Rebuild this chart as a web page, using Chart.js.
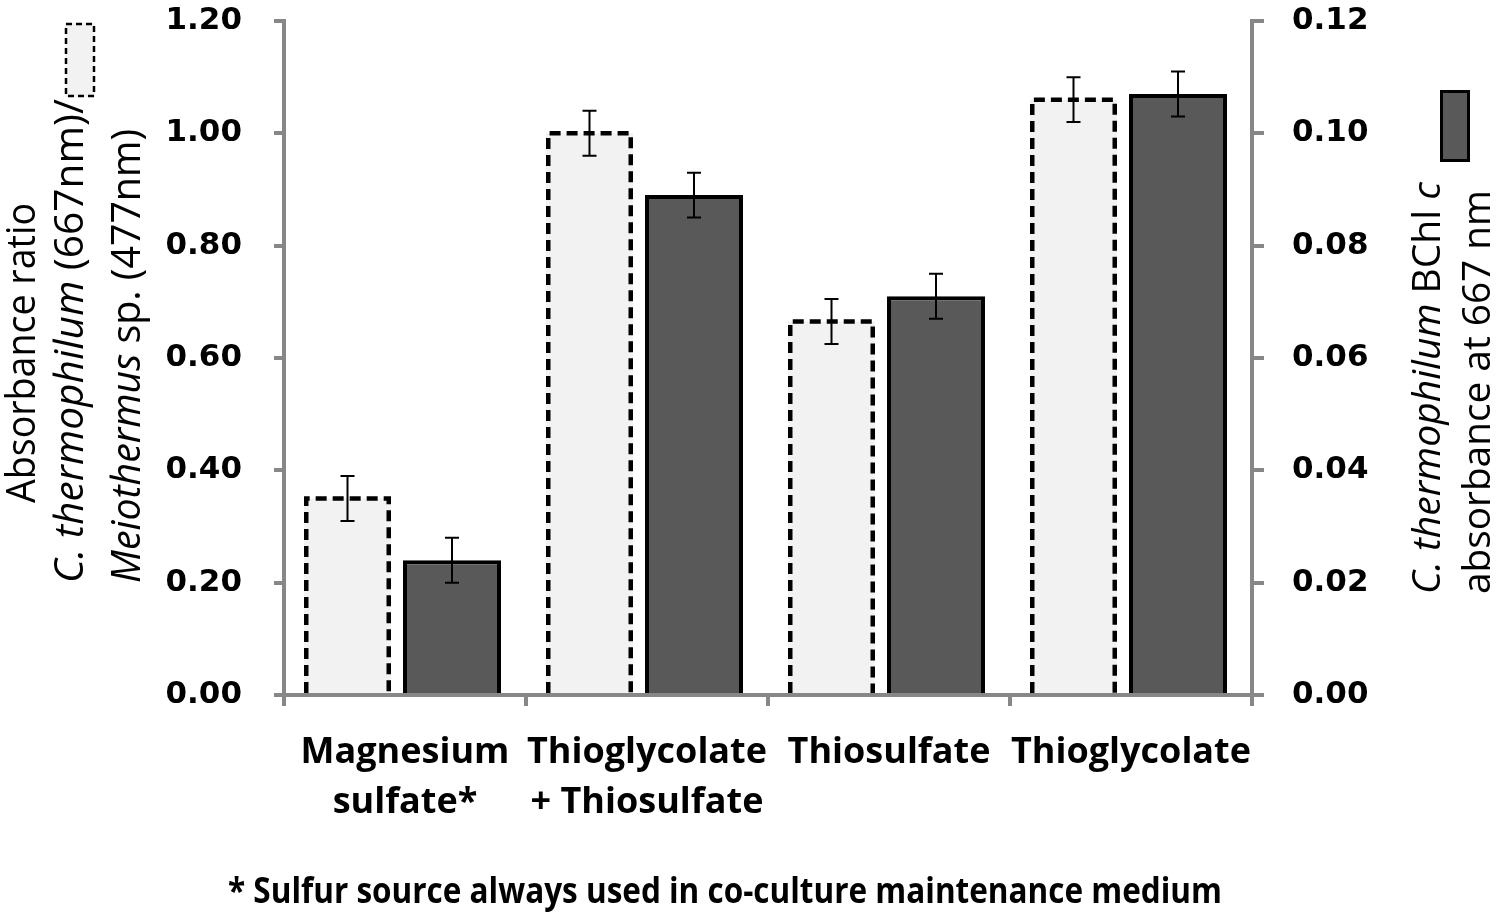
<!DOCTYPE html>
<html>
<head>
<meta charset="utf-8">
<script src="https://cdn.jsdelivr.net/npm/chart.js@4.4.1/dist/chart.umd.min.js"></script>
<style>
  html, body { margin: 0; padding: 0; background: #ffffff; }
  #wrap { width: 1500px; height: 922px; }
</style>
</head>
<body>
<div id="wrap"><canvas id="c" width="1500" height="922"></canvas></div>
<script>
// ---- data ----
const categories = [["Magnesium", "sulfate*"], ["Thioglycolate", "+ Thiosulfate"], ["Thiosulfate"], ["Thioglycolate"]];
const ratioValues = [0.35, 1.00, 0.665, 1.06];      // left axis (light, dashed)
const ratioErrors = [0.04, 0.04, 0.04, 0.04];
const bchlValues = [0.024, 0.089, 0.071, 0.107];     // right axis (dark)
const bchlErrors = [0.004, 0.004, 0.004, 0.004];
const leftTicks = { min: 0, max: 1.2, step: 0.2 };
const rightTicks = { min: 0, max: 0.12, step: 0.02 };
const footnote = "* Sulfur source always used in co-culture maintenance medium";

const AXIS_GRAY = '#878787';
const LIGHT = '#f2f2f2';
const DARK = '#595959';

function drawRotLine(ctx, segs, baseX, startY, endY, size, weight) {
  let total = 0;
  segs.forEach(s => {
    ctx.font = (s.it ? 'italic ' : '') + (weight || 'normal') + ' ' + size + 'px "Open Sans"';
    s.w = ctx.measureText(s.t).width;
    total += s.w;
  });
  const k = (startY - endY) / total;
  ctx.save();
  ctx.translate(baseX, startY);
  ctx.rotate(-Math.PI / 2);
  ctx.scale(k, 1);
  ctx.textAlign = 'left';
  ctx.textBaseline = 'alphabetic';
  ctx.fillStyle = '#000';
  let x = 0;
  segs.forEach(s => {
    ctx.font = (s.it ? 'italic ' : '') + (weight || 'normal') + ' ' + size + 'px "Open Sans"';
    ctx.fillText(s.t, x, 0);
    x += s.w;
  });
  ctx.restore();
}

const decorPlugin = {
  id: 'decor',
  afterDatasetsDraw(chart) {
    const ctx = chart.ctx;
    // dashed borders for the ratio bars
    const m0 = chart.getDatasetMeta(0);
    ctx.save();
    ctx.strokeStyle = '#000';
    ctx.lineWidth = 4.5;
    ctx.setLineDash([11, 6]);
    m0.data.forEach(el => {
      const p = el.getProps(['x', 'y', 'base', 'width'], true);
      const x0 = p.x - p.width / 2 + 2.25, x1 = p.x + p.width / 2 - 2.25;
      const yT = p.y, yB = p.base;
      ctx.beginPath();
      ctx.moveTo(x0, yB);
      ctx.lineTo(x0, yT);
      ctx.lineTo(x1, yT);
      ctx.lineTo(x1, yB);
      ctx.stroke();
    });
    ctx.restore();
    // error bars
    const sets = [
      { meta: m0, vals: ratioValues, errs: ratioErrors, scale: chart.scales.y },
      { meta: chart.getDatasetMeta(1), vals: bchlValues, errs: bchlErrors, scale: chart.scales.y1 }
    ];
    ctx.save();
    ctx.strokeStyle = '#000';
    ctx.lineWidth = 2;
    sets.forEach(s => {
      s.meta.data.forEach((el, i) => {
        const x = el.getProps(['x'], true).x;
        const yt = s.scale.getPixelForValue(s.vals[i] + s.errs[i]);
        const yb = s.scale.getPixelForValue(s.vals[i] - s.errs[i]);
        ctx.beginPath();
        ctx.moveTo(x, yt); ctx.lineTo(x, yb);
        ctx.moveTo(x - 7, yt); ctx.lineTo(x + 7, yt);
        ctx.moveTo(x - 7, yb); ctx.lineTo(x + 7, yb);
        ctx.stroke();
      });
    });
    ctx.restore();
  },
  afterDraw(chart) {
    const ctx = chart.ctx;
    // left axis title
    drawRotLine(ctx, [{ t: 'Absorbance ratio' }], 35, 503, 203, 40, 500);
    drawRotLine(ctx, [{ t: 'C. thermophilum', it: true }, { t: ' (667nm)/' }], 83, 583, 99, 40, 500);
    drawRotLine(ctx, [{ t: 'Meiothermus', it: true }, { t: ' sp. (477nm)' }], 140, 583, 129, 40, 500);
    // left legend swatch
    ctx.save();
    ctx.fillStyle = LIGHT;
    ctx.fillRect(65, 23, 30, 74);
    ctx.strokeStyle = '#000';
    ctx.lineWidth = 2.5;
    ctx.setLineDash([6, 4]);
    ctx.strokeRect(66, 24, 28, 72);
    ctx.restore();
    // right axis title
    drawRotLine(ctx, [{ t: 'C. thermophilum', it: true }, { t: ' BChl ' }, { t: 'c', it: true }], 1440, 594, 182, 38, 500);
    drawRotLine(ctx, [{ t: 'absorbance at 667 nm' }], 1490, 594, 190, 38, 500);
    // right legend swatch
    ctx.save();
    ctx.fillStyle = DARK;
    ctx.fillRect(1440, 90, 30, 72);
    ctx.strokeStyle = '#000';
    ctx.lineWidth = 3;
    ctx.strokeRect(1441.5, 91.5, 27, 69);
    ctx.restore();
    // footnote
    ctx.save();
    ctx.font = 'bold 35px "Open Sans"';
    const w = ctx.measureText(footnote).width;
    const k = (1222 - 228) / w;
    ctx.translate(228, 903);
    ctx.scale(k, 1);
    ctx.fillStyle = '#000';
    ctx.textAlign = 'left';
    ctx.textBaseline = 'alphabetic';
    ctx.fillText(footnote, 0, 0);
    ctx.restore();
  }
};

const tickFont = { family: 'DejaVu Sans', weight: 'bold', size: 31 };
function noPad(s) { s.paddingTop = 0; s.paddingBottom = 0; }

new Chart(document.getElementById('c'), {
  type: 'bar',
  data: {
    labels: categories,
    datasets: [
      {
        label: 'Absorbance ratio',
        data: ratioValues,
        yAxisID: 'y',
        backgroundColor: LIGHT,
        borderWidth: 0,
        categoryPercentage: 0.9504,
        barPercentage: 0.7565
      },
      {
        label: 'BChl c absorbance',
        data: bchlValues,
        yAxisID: 'y1',
        backgroundColor: DARK,
        borderColor: '#000',
        borderWidth: 4,
        categoryPercentage: 0.7769,
        barPercentage: 1.0426
      }
    ]
  },
  options: {
    responsive: false,
    animation: false,
    devicePixelRatio: 1,
    layout: { padding: { top: 21, left: 0, right: 0, bottom: 0 } },
    plugins: { legend: { display: false }, tooltip: { enabled: false }, title: { display: false } },
    scales: {
      x: {
        afterFit(s) { s.height = 227; s.paddingLeft = 0; s.paddingRight = 0; },
        border: { display: true, color: AXIS_GRAY, width: 4 },
        grid: { display: true, drawOnChartArea: false, drawTicks: true, tickLength: 11, color: AXIS_GRAY, lineWidth: 4, offset: true },
        ticks: { color: '#000', font: { family: 'Open Sans', weight: 'bold', size: 36, lineHeight: 1.39 }, padding: 22, maxRotation: 0, autoSkip: false }
      },
      y: {
        position: 'left',
        min: leftTicks.min, max: leftTicks.max,
        afterFit(s) { s.width = 284; noPad(s); },
        border: { display: true, color: AXIS_GRAY, width: 4 },
        grid: { display: true, drawOnChartArea: false, tickLength: 10, color: AXIS_GRAY, lineWidth: 4 },
        ticks: { stepSize: leftTicks.step, color: '#000', font: tickFont, padding: 32, callback: v => Number(v).toFixed(2) }
      },
      y1: {
        position: 'right',
        min: rightTicks.min, max: rightTicks.max,
        afterFit(s) { s.width = 248; noPad(s); },
        border: { display: true, color: AXIS_GRAY, width: 4 },
        grid: { display: true, drawOnChartArea: false, tickLength: 12, color: AXIS_GRAY, lineWidth: 4 },
        ticks: { stepSize: rightTicks.step, color: '#000', font: tickFont, padding: 28, callback: v => Number(v).toFixed(2) }
      }
    }
  },
  plugins: [decorPlugin]
});
</script>
</body>
</html>
